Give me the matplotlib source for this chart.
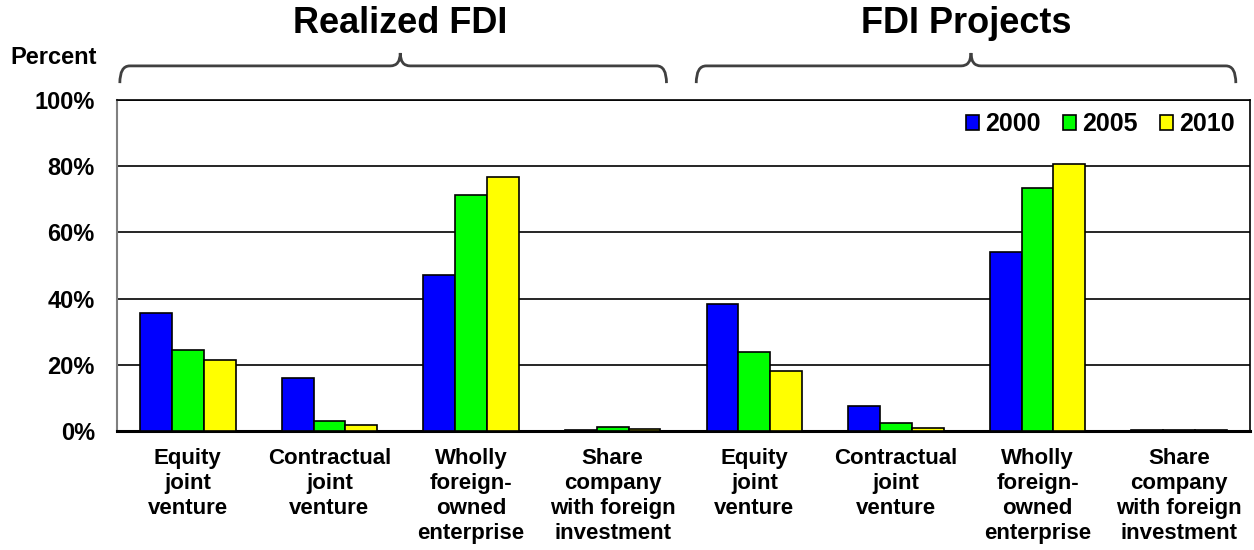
import matplotlib.pyplot as plt
import matplotlib.transforms as mtransforms
from matplotlib.path import Path
from matplotlib.patches import PathPatch
import numpy as np

plt.rcParams['font.family'] = ['Liberation Sans', 'DejaVu Sans']
plt.rcParams['font.weight'] = 'bold'

# Data
categories = ['Equity\njoint\nventure', 'Contractual\njoint\nventure',
              'Wholly\nforeign-\nowned\nenterprise', 'Share\ncompany\nwith foreign\ninvestment']
groups = ['Realized FDI', 'FDI Projects']
years = ['2000', '2005', '2010']
realized_2000 = [35.7, 16.0, 47.0, 0.3]
realized_2005 = [24.4, 3.0, 71.2, 1.3]
realized_2010 = [21.4, 1.7, 76.6, 0.5]
projects_2000 = [38.4, 7.5, 54.1, 0.3]
projects_2005 = [24.0, 2.5, 73.3, 0.3]
projects_2010 = [18.1, 0.9, 80.6, 0.3]
colors = ['#0000FF', '#00FF00', '#FFFF00']

series = [realized_2000 + projects_2000,
          realized_2005 + projects_2005,
          realized_2010 + projects_2010]
labels = categories + categories

fig = plt.figure(figsize=(12.54, 5.5), dpi=100)
ax = fig.add_axes([0.0933, 0.2164, 0.9035, 0.6018])

x = np.arange(len(labels))
w = 0.225
for k in range(3):
    ax.bar(x + (k - 1) * w, series[k], w, color=colors[k], edgecolor='black',
           linewidth=1.2, label=years[k], zorder=3)

ax.set_xlim(-0.5, len(labels) - 0.5)
ax.set_ylim(0, 100)
ax.set_yticks([0, 20, 40, 60, 80, 100])
ax.set_yticklabels(['0%', '20%', '40%', '60%', '80%', '100%'], fontsize=17, fontweight='bold')
ax.set_xticks(x)
ax.set_xticklabels(labels, fontsize=16, fontweight='bold', linespacing=1.25, va='top')
ax.tick_params(axis='both', length=0)
ax.tick_params(axis='x', pad=12)
ax.tick_params(axis='y', pad=16)
ax.yaxis.grid(True, color='black', linewidth=1.2, zorder=0)
ax.set_axisbelow(True)
ax.spines['left'].set_color('#808080')
ax.spines['left'].set_linewidth(1.5)
ax.spines['bottom'].set_linewidth(2.2)
ax.spines['top'].set_linewidth(1.2)
ax.spines['right'].set_linewidth(1.2)

leg = ax.legend(loc='center right', bbox_to_anchor=(1.0, 0.927), ncol=3, frameon=False,
                prop={'size': 18, 'weight': 'bold'}, handlelength=0.52, handleheight=0.52,
                handletextpad=0.25, columnspacing=0.9, borderaxespad=0, borderpad=0.6)

# braces and group titles
trans = mtransforms.blended_transform_factory(ax.transData, ax.transAxes)

def brace(x0, x1, xm):
    yb, yh, yt = 1.051, 1.103, 1.142
    rx = 0.07
    verts = [(x0, yb), (x0, yh), (x0 + rx, yh),
             (xm - rx, yh), (xm, yh), (xm, yt),
             (xm, yh), (xm + rx, yh),
             (x1 - rx, yh), (x1, yh), (x1, yb)]
    codes = [Path.MOVETO, Path.CURVE3, Path.CURVE3,
             Path.LINETO, Path.CURVE3, Path.CURVE3,
             Path.CURVE3, Path.CURVE3,
             Path.LINETO, Path.CURVE3, Path.CURVE3]
    p = PathPatch(Path(verts, codes), transform=trans, fill=False,
                  edgecolor='#404040', linewidth=2, clip_on=False)
    ax.add_patch(p)

brace(-0.48, 3.38, 1.5)
brace(3.59, 7.40, 5.53)
ax.text(1.5, 1.23, groups[0], transform=trans, ha='center', va='center',
        fontsize=26, fontweight='bold')
ax.text(5.5, 1.23, groups[1], transform=trans, ha='center', va='center',
        fontsize=26, fontweight='bold')

fig.text(10 / 1254, 1 - 58 / 550, 'Percent', ha='left', va='center',
         fontsize=17, fontweight='bold')

fig.savefig('out.png', dpi=100)
